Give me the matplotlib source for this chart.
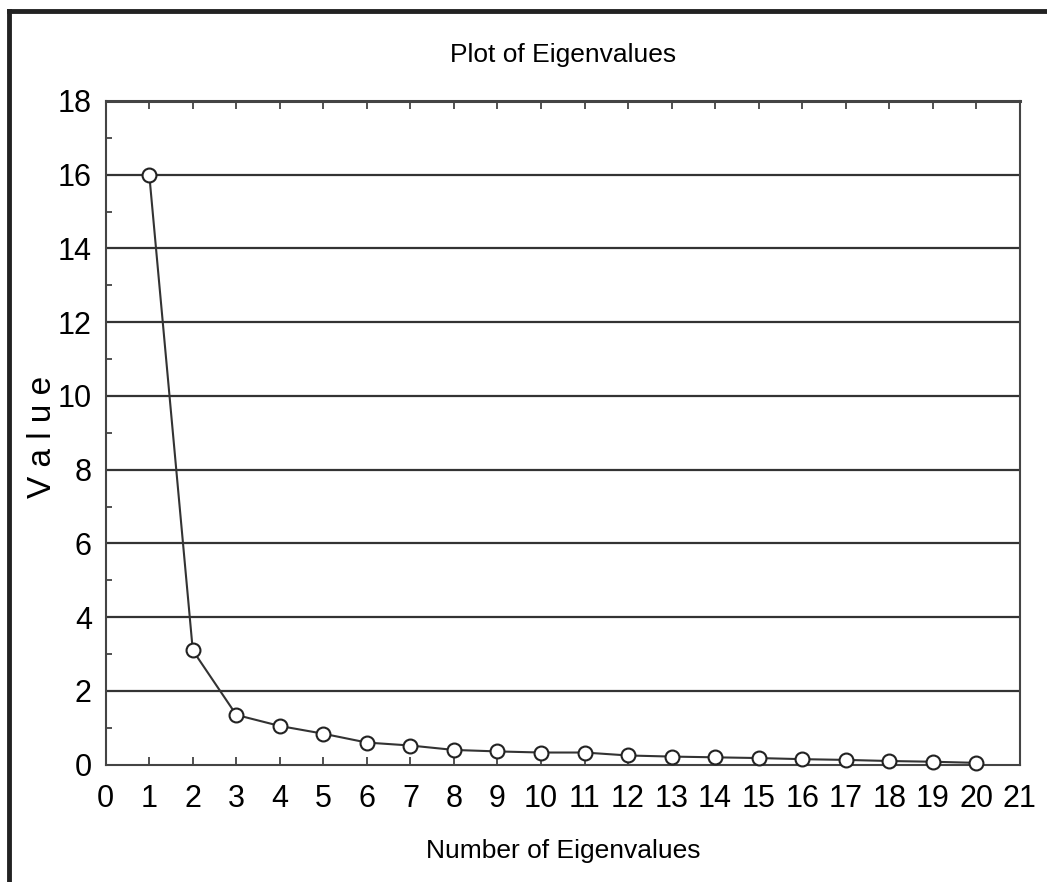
import matplotlib.pyplot as plt
from matplotlib.lines import Line2D
from matplotlib import font_manager

# Eigenvalues of the correlation matrix, in decreasing order
eig_number = list(range(1, 21))
eig_value = [16.0, 3.1, 1.35, 1.05, 0.84, 0.6, 0.52, 0.4, 0.36, 0.33,
             0.33, 0.25, 0.22, 0.2, 0.18, 0.15, 0.13, 0.1, 0.08, 0.05]

x_ticks = list(range(0, 22))
y_ticks = list(range(0, 19, 2))

names = {f.name for f in font_manager.fontManager.ttflist}
narrow = 'Liberation Sans Narrow' if 'Liberation Sans Narrow' in names else 'Liberation Sans'
plt.rcParams['font.family'] = [narrow, 'DejaVu Sans']

fig = plt.figure(figsize=(10.47, 8.82), dpi=100)
ax = fig.add_axes([0.101, 0.133, 0.873, 0.7525])

# horizontal grid
for yv in y_ticks[1:-1]:
    ax.axhline(yv, color='#333333', lw=1.6, zorder=1)

ax.plot(eig_number, eig_value, color='#333333', lw=1.5, marker='o', ms=10,
        mfc='white', mec='#222222', mew=1.5, zorder=3, clip_on=False)

ax.set_xlim(0, 21)
ax.set_ylim(0, 18)
ax.set_xticks(x_ticks)
ax.set_yticks(y_ticks)
ax.set_yticks(range(0, 19), minor=True)
ax.tick_params(axis='both', which='both', direction='in', top=True, right=False,
               labelsize=22, width=1.2, color='#333333')
ax.tick_params(axis='x', which='major', length=6, pad=14)
ax.tick_params(axis='y', which='major', length=6, pad=10)
ax.tick_params(axis='y', which='minor', length=4)
for s in ax.spines.values():
    s.set_color('#444444')
    s.set_linewidth(1.5)
ax.spines['top'].set_linewidth(2.2)

ax.set_title('Plot of Eigenvalues', fontsize=19, pad=28)
ax.set_xlabel('Number of Eigenvalues', fontsize=19, labelpad=18)
fig.text(0.041, 0.505, 'V a l u e', fontsize=24, rotation=90,
         ha='center', va='center')

# page frame along the top and left edges
fig.add_artist(Line2D([0.009, 1.0], [0.987, 0.987], transform=fig.transFigure,
                      color='#222222', lw=3.5))
fig.add_artist(Line2D([0.009, 0.009], [0.0, 0.987], transform=fig.transFigure,
                      color='#222222', lw=3.5))

fig.savefig('out.png', dpi=100)
